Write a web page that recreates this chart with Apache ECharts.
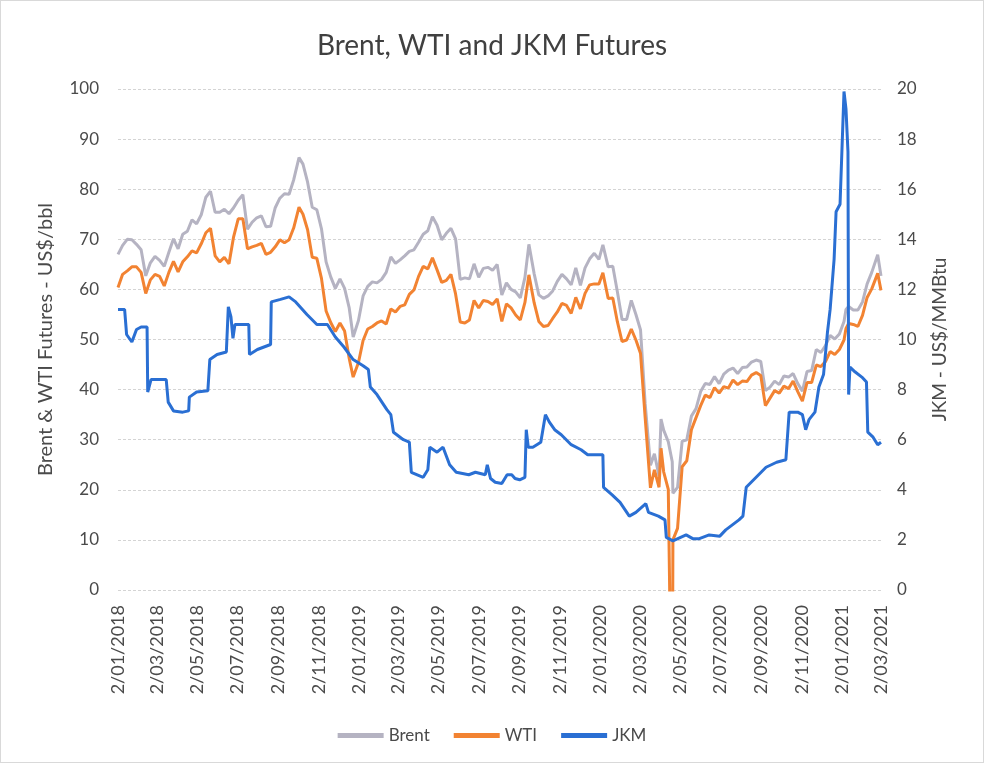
<!DOCTYPE html>
<html>
<head>
<meta charset="utf-8">
<title>Brent, WTI and JKM Futures</title>
<script src="https://cdn.jsdelivr.net/npm/echarts@6/dist/echarts.min.js"></script>
<style>
  html, body { margin: 0; padding: 0; background: #fff; }
  #chart { width: 984px; height: 763px; box-sizing: border-box; border: 1px solid #d9d9d9; }
</style>
</head>
<body>
<div id="chart"></div>
<script>
// oil futures, sampled about weekly (plus a few turning points)
const oilDates = [
  '2018-01-02','2018-01-09','2018-01-16','2018-01-23','2018-01-30','2018-02-06','2018-02-13','2018-02-20','2018-02-27',
  '2018-03-06','2018-03-13','2018-03-20','2018-03-27','2018-04-03','2018-04-10','2018-04-17','2018-04-24','2018-05-01',
  '2018-05-08','2018-05-15','2018-05-22','2018-05-29','2018-06-05','2018-06-12','2018-06-19','2018-06-26','2018-07-03',
  '2018-07-10','2018-07-17','2018-07-24','2018-07-31','2018-08-07','2018-08-14','2018-08-21','2018-08-28','2018-09-04',
  '2018-09-11','2018-09-18','2018-09-25','2018-10-03','2018-10-09','2018-10-16','2018-10-23','2018-10-30','2018-11-06',
  '2018-11-13','2018-11-20','2018-11-27','2018-12-04','2018-12-11','2018-12-18','2018-12-24',
  '2019-01-01','2019-01-08','2019-01-15','2019-01-22','2019-01-29','2019-02-05','2019-02-12','2019-02-19','2019-02-26',
  '2019-03-05','2019-03-12','2019-03-19','2019-03-26','2019-04-02','2019-04-09','2019-04-16','2019-04-23','2019-04-30',
  '2019-05-07','2019-05-14','2019-05-21','2019-05-28','2019-06-04','2019-06-11','2019-06-18','2019-06-25','2019-07-02',
  '2019-07-09','2019-07-16','2019-07-23','2019-07-30','2019-08-06','2019-08-13','2019-08-20','2019-08-27','2019-09-03',
  '2019-09-10','2019-09-16','2019-09-24','2019-10-01','2019-10-08','2019-10-15','2019-10-22','2019-10-29','2019-11-05',
  '2019-11-12','2019-11-19','2019-11-26','2019-12-03','2019-12-10','2019-12-17','2019-12-24','2019-12-31',
  '2020-01-06','2020-01-14','2020-01-21','2020-01-28','2020-02-04','2020-02-11','2020-02-18','2020-02-25',
  '2020-03-03','2020-03-10','2020-03-18','2020-03-24','2020-03-31','2020-04-03','2020-04-07','2020-04-14','2020-04-20',
  '2020-04-21','2020-04-28','2020-05-05','2020-05-12','2020-05-19','2020-05-26','2020-06-02','2020-06-09','2020-06-16',
  '2020-06-23','2020-06-30','2020-07-07','2020-07-14','2020-07-21','2020-07-28','2020-08-04','2020-08-11','2020-08-18',
  '2020-08-25','2020-09-01','2020-09-08','2020-09-15','2020-09-22','2020-09-29','2020-10-06','2020-10-13','2020-10-20',
  '2020-10-27','2020-11-03','2020-11-10','2020-11-17','2020-11-24','2020-12-01','2020-12-08','2020-12-15','2020-12-22',
  '2020-12-29','2021-01-05','2021-01-08','2021-01-12','2021-01-19','2021-01-26','2021-02-02','2021-02-09','2021-02-16',
  '2021-02-25','2021-03-02'
];

const brent = [
  67.0,68.8,70.0,69.9,69.0,67.9,62.7,65.3,66.6,
  65.8,64.6,67.4,70.1,68.1,71.0,71.6,73.9,73.1,
  74.9,78.4,79.6,75.4,75.4,76.0,75.1,76.3,77.8,
  78.9,72.0,73.4,74.3,74.7,72.5,72.6,76.3,78.2,
  79.1,79.0,81.9,86.3,85.0,81.4,76.4,75.9,72.1,
  65.5,62.5,60.2,62.1,60.2,56.3,50.5,
  53.8,58.7,60.6,61.5,61.3,62.0,63.4,66.5,65.2,
  65.9,66.7,67.6,67.9,69.4,71.0,71.7,74.5,72.8,
  69.9,71.2,72.2,70.1,62.0,62.3,62.1,65.1,62.4,
  64.2,64.4,63.8,65.0,58.9,61.3,60.0,59.5,58.3,
  62.4,69.0,63.1,58.9,58.2,58.7,59.7,61.6,63.0,
  62.1,60.9,64.3,60.8,64.3,66.1,67.2,66.0,
  68.9,64.5,64.6,59.5,54.0,54.0,57.8,55.0,
  51.9,37.2,24.9,27.2,22.7,34.1,31.9,29.6,25.6,
  19.3,20.5,29.7,30.0,34.7,36.2,39.6,41.2,41.0,
  42.6,41.2,43.1,43.9,44.3,43.2,44.4,44.5,45.5,
  45.9,45.6,39.8,40.5,41.7,41.0,42.7,42.5,43.2,
  41.2,39.7,43.6,43.8,48.0,47.4,48.8,50.8,50.1,
  51.1,53.6,56.0,56.6,55.9,55.9,57.5,61.1,63.4,
  66.9,62.7
];

const wti = [
  60.4,63.0,63.7,64.5,64.5,63.4,59.2,61.9,63.0,
  62.6,60.7,63.4,65.6,63.5,65.5,66.5,67.7,67.3,
  69.1,71.3,72.2,66.7,65.5,66.4,65.1,70.5,74.1,
  74.1,68.1,68.5,68.8,69.2,67.0,67.4,68.5,69.9,
  69.3,69.9,72.3,76.4,75.0,71.9,66.4,66.2,62.2,
  55.7,53.4,51.6,53.3,51.7,46.2,42.5,
  45.4,49.8,52.1,52.6,53.3,53.7,53.1,56.1,55.5,
  56.6,56.9,59.0,59.9,62.6,64.6,64.1,66.3,63.9,
  61.4,61.8,63.0,59.1,53.5,53.3,53.9,57.8,56.3,
  57.8,57.6,57.0,58.1,53.6,57.1,56.3,54.9,53.9,
  57.4,62.9,57.3,53.6,52.6,52.8,54.2,55.5,57.2,
  56.8,55.2,58.4,56.1,59.2,60.9,61.1,61.1,
  63.3,58.2,58.3,53.5,49.6,49.9,52.1,49.9,
  47.2,34.4,20.4,24.0,20.5,28.3,23.6,20.1,-37.6,
  10.0,12.3,24.6,25.8,32.0,34.4,36.8,38.9,38.4,
  40.4,39.3,40.6,40.3,41.9,41.0,41.7,41.6,42.9,
  43.4,42.8,36.8,38.3,39.8,39.3,40.7,40.2,41.7,
  39.6,37.7,41.4,41.4,44.9,44.6,45.6,47.6,47.0,
  48.0,49.9,52.2,53.2,53.0,52.6,54.8,58.4,60.1,
  63.2,59.8
];

// JKM moves in steps, so its own dates mark both sides of each jump
const jkmDates = [
  '2018-01-02','2018-01-12','2018-01-15','2018-01-23','2018-01-30','2018-02-06','2018-02-15','2018-02-16','2018-02-21',
  '2018-03-16','2018-03-19','2018-03-27','2018-04-10','2018-04-19','2018-04-20','2018-05-01','2018-05-18','2018-05-21',
  '2018-06-01','2018-06-15','2018-06-18','2018-06-22','2018-06-25','2018-06-28','2018-07-19','2018-07-20','2018-08-01',
  '2018-08-21','2018-08-22','2018-09-05','2018-09-18','2018-09-28','2018-10-15','2018-10-30','2018-11-15','2018-11-27',
  '2018-12-10','2018-12-24',
  '2019-01-08','2019-01-16','2019-01-19','2019-01-29','2019-02-13','2019-02-19','2019-02-23','2019-03-10','2019-03-19',
  '2019-03-22','2019-04-09','2019-04-16','2019-04-19','2019-04-30','2019-05-09','2019-05-19','2019-05-29','2019-06-17',
  '2019-06-27','2019-07-12','2019-07-15','2019-07-20','2019-07-27','2019-08-06','2019-08-14','2019-08-21','2019-08-26',
  '2019-09-02','2019-09-10','2019-09-12','2019-09-15','2019-09-22','2019-10-04','2019-10-11','2019-10-17','2019-10-25',
  '2019-11-04','2019-11-19','2019-12-04','2019-12-14',
  '2020-01-06','2020-01-07','2020-01-20','2020-02-01','2020-02-15','2020-02-25','2020-03-11','2020-03-15','2020-03-30',
  '2020-04-09','2020-04-11','2020-04-21','2020-05-11','2020-05-21','2020-05-31','2020-06-15','2020-07-01','2020-07-10',
  '2020-07-20','2020-07-30','2020-08-05','2020-08-10','2020-08-25','2020-09-09','2020-09-25','2020-10-09','2020-10-14',
  '2020-10-27','2020-11-03','2020-11-08','2020-11-13','2020-11-22','2020-11-28','2020-12-05','2020-12-11','2020-12-15',
  '2020-12-21','2020-12-24','2020-12-30',
  '2021-01-05','2021-01-08','2021-01-11','2021-01-12','2021-01-14','2021-01-22','2021-02-01','2021-02-08','2021-02-10',
  '2021-02-18','2021-02-25','2021-03-02'
];

const jkm = [
  11.2,11.2,10.2,9.9,10.4,10.5,10.5,7.9,8.4,
  8.4,7.5,7.15,7.1,7.15,7.7,7.9,7.95,9.2,
  9.4,9.5,11.3,10.9,10.05,10.6,10.6,9.4,9.6,
  9.8,11.5,11.6,11.7,11.5,11.0,10.6,10.6,10.1,
  9.7,9.2,
  8.95,8.8,8.1,7.8,7.2,7.0,6.3,6.0,5.9,
  4.7,4.5,4.8,5.7,5.5,5.7,5.0,4.7,4.6,
  4.7,4.6,5.0,4.45,4.3,4.25,4.6,4.6,4.45,
  4.4,4.5,6.4,5.7,5.7,5.9,7.0,6.7,6.4,
  6.2,5.8,5.6,5.4,
  5.4,4.1,3.8,3.5,2.95,3.1,3.45,3.1,2.95,
  2.8,2.1,1.96,2.2,2.05,2.05,2.2,2.15,2.4,
  2.6,2.8,2.95,4.1,4.5,4.9,5.1,5.2,7.1,
  7.1,7.0,6.4,6.8,7.1,8.1,8.6,10.3,11.2,
  13.2,15.1,15.4,
  19.9,19.2,17.5,7.8,8.9,8.7,8.5,8.3,6.3,
  6.1,5.8,5.9
];

const tickLabels = [
  '2/01/2018','2/03/2018','2/05/2018','2/07/2018','2/09/2018','2/11/2018',
  '2/01/2019','2/03/2019','2/05/2019','2/07/2019','2/09/2019','2/11/2019',
  '2/01/2020','2/03/2020','2/05/2020','2/07/2020','2/09/2020','2/11/2020',
  '2/01/2021','2/03/2021'
];

const startDay = '2018-01-02';
const endDay = '2021-03-02';

// one category per calendar day, so label spacing follows the calendar
const days = [];
for (let t = Date.parse(startDay + 'T00:00:00Z'); t <= Date.parse(endDay + 'T00:00:00Z'); t += 86400000) {
  days.push(new Date(t).toISOString().slice(0, 10));
}
const toLabel = (iso) => {
  const p = iso.split('-');
  return (+p[2]) + '/' + p[1] + '/' + p[0];
};
const pairs = (ds, vals) => vals.map((v, i) => [days.indexOf(ds[i]), v]);

const textColor = '#4a4a4a';
const font = 'Lato';

const chart = echarts.init(document.getElementById('chart'), null, { renderer: 'canvas' });
chart.setOption({
  animation: false,
  title: {
    text: 'Brent, WTI and JKM Futures',
    left: 'center',
    top: 26,
    textStyle: { fontFamily: font, fontSize: 28, fontWeight: 'normal', color: '#404040' }
  },
  legend: {
    data: ['Brent', 'WTI', 'JKM'],
    top: 721,
    left: 'center',
    icon: 'rect',
    itemWidth: 46,
    itemHeight: 5,
    itemGap: 24,
    textStyle: { fontFamily: font, fontSize: 17, color: textColor }
  },
  grid: { left: 117, right: 102, top: 88, bottom: 172 },
  xAxis: {
    type: 'category',
    data: days,
    boundaryGap: false,
    axisLine: { show: false },
    axisTick: { show: false },
    axisLabel: {
      rotate: 90,
      margin: 15,
      interval: (i, v) => tickLabels.includes(toLabel(v)),
      formatter: (v) => toLabel(v),
      fontFamily: font,
      fontSize: 18,
      color: textColor
    },
    splitLine: { show: false }
  },
  yAxis: [
    {
      type: 'value',
      min: 0, max: 100, interval: 10,
      name: 'Brent & WTI Futures - US$/bbl',
      nameLocation: 'middle',
      nameRotate: 90,
      nameGap: 62,
      nameTextStyle: { fontFamily: font, fontSize: 20, color: textColor },
      axisLine: { show: false },
      axisTick: { show: false },
      axisLabel: { margin: 19, fontFamily: font, fontSize: 17, color: textColor },
      splitLine: { lineStyle: { color: '#d4d4d4', type: [3, 2], width: 1 } }
    },
    {
      type: 'value',
      min: 0, max: 20, interval: 2,
      name: 'JKM - US$/MMBtu',
      nameLocation: 'middle',
      nameRotate: 90,
      nameGap: 49,
      nameTextStyle: { fontFamily: font, fontSize: 19, color: textColor },
      axisLine: { show: false },
      axisTick: { show: false },
      axisLabel: { margin: 16, fontFamily: font, fontSize: 17, color: textColor },
      splitLine: { show: false }
    }
  ],
  series: [
    {
      name: 'Brent', type: 'line', data: pairs(oilDates, brent), showSymbol: false,
      color: '#b5b3c2', lineStyle: { width: 3, color: '#b5b3c2' }
    },
    {
      name: 'WTI', type: 'line', data: pairs(oilDates, wti), showSymbol: false,
      color: '#f28332', lineStyle: { width: 3, color: '#f28332' }
    },
    {
      name: 'JKM', type: 'line', yAxisIndex: 1, data: pairs(jkmDates, jkm), showSymbol: false,
      color: '#2a6fd3', lineStyle: { width: 3, color: '#2a6fd3' }
    }
  ]
});
</script>
</body>
</html>
